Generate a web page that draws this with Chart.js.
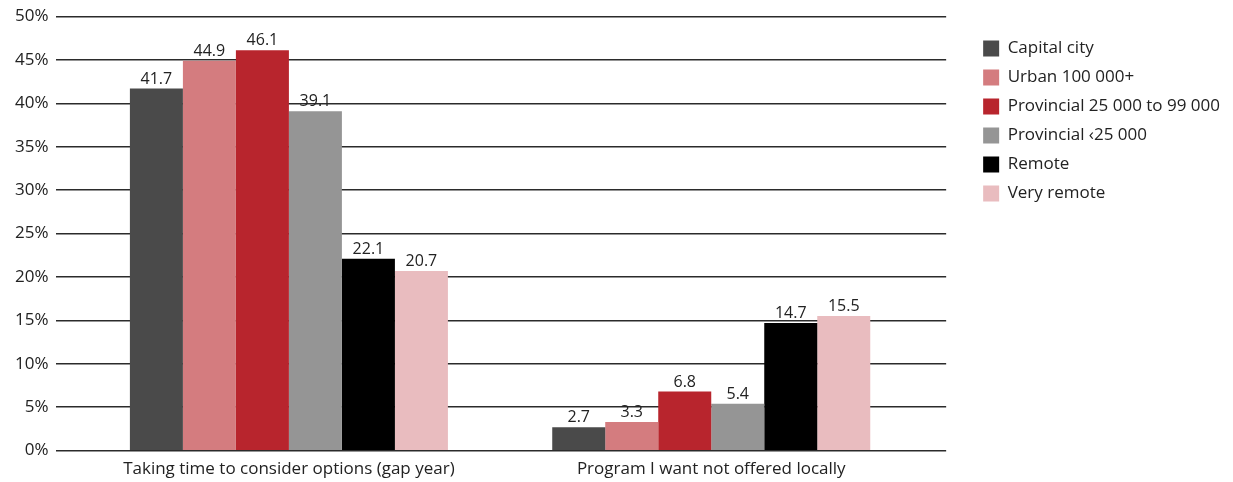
<!DOCTYPE html>
<html>
<head>
<meta charset="utf-8">
<script src="https://cdn.jsdelivr.net/npm/chart.js@4"></script>
<style>
  html, body { margin: 0; padding: 0; background: #fff; }
</style>
</head>
<body>
<canvas id="reasonChart" width="1233" height="482"></canvas>
<script>
const categories = ['Taking time to consider options (gap year)', 'Program I want not offered locally'];
const seriesNames = ['Capital city', 'Urban 100 000+', 'Provincial 25 000 to 99 000', 'Provincial ‹25 000', 'Remote', 'Very remote'];
const seriesColors = ['#4a4a4a', '#d47c7f', '#b8252d', '#959595', '#000000', '#e9bcbf'];

const capitalCity = [41.7, 2.7];
const urban100k = [44.9, 3.3];
const provincial25to99k = [46.1, 6.8];
const provincialUnder25k = [39.1, 5.4];
const remote = [22.1, 14.7];
const veryRemote = [20.7, 15.5];

const seriesValues = [capitalCity, urban100k, provincial25to99k, provincialUnder25k, remote, veryRemote];
const yTicks = [0, 5, 10, 15, 20, 25, 30, 35, 40, 45, 50];

Chart.defaults.font.family = '"Open Sans", sans-serif';
Chart.defaults.font.size = 17;
Chart.defaults.color = '#222';

// space between plot and legend, and how far the legend sits below the top
const legendGap = 25;
const legendDrop = 30;

const legendShift = {
  id: 'legendShift',
  beforeLayout(chart) {
    const legend = chart.legend;
    if (legend && !legend._widened) {
      const fit = legend.fit;
      legend.fit = function () {
        fit.call(this);
        this.width += legendGap;
      };
      legend._widened = true;
    }
  },
  afterLayout(chart) {
    const legend = chart.legend;
    legend.left += legendGap;
    legend.right += legendGap;
    legend.top += legendDrop;
    legend.bottom += legendDrop;
  },
};

const valueLabels = {
  id: 'valueLabels',
  afterDatasetsDraw(chart) {
    const ctx = chart.ctx;
    ctx.save();
    ctx.font = '16px "Open Sans", sans-serif';
    ctx.fillStyle = '#222';
    ctx.textAlign = 'center';
    ctx.textBaseline = 'alphabetic';
    chart.data.datasets.forEach((ds, i) => {
      chart.getDatasetMeta(i).data.forEach((bar, j) => {
        ctx.fillText(ds.data[j].y.toFixed(1), bar.x, bar.y - 5);
      });
    });
    ctx.restore();
  },
};

const datasets = seriesNames.map((name, i) => ({
  label: name,
  data: seriesValues[i].map((v, j) => ({ x: j, y: v })),
  backgroundColor: seriesColors[i],
  borderWidth: 0,
  categoryPercentage: 0.753,
  barPercentage: 1,
}));

new Chart(document.getElementById('reasonChart'), {
  type: 'bar',
  data: { datasets },
  options: {
    responsive: false,
    animation: false,
    layout: { padding: { top: -2, right: 3, bottom: -5, left: 7 } },
    plugins: {
      legend: {
        position: 'right',
        align: 'start',
        labels: {
          boxWidth: 16,
          boxHeight: 16,
          padding: 12,
          font: { size: 17 },
          color: '#222',
        },
      },
      tooltip: { enabled: false },
    },
    scales: {
      x: {
        type: 'linear',
        min: -0.5503,
        max: 1.5562,
        offset: false,
        afterBuildTicks: (axis) => {
          axis.ticks = categories.map((_, i) => ({ value: i }));
        },
        ticks: {
          autoSkip: false,
          maxRotation: 0,
          padding: 8,
          font: { size: 17 },
          callback: (v) => categories[v],
        },
        grid: { display: false, drawTicks: false },
        border: { display: false },
      },
      y: {
        min: 0,
        max: 50,
        afterBuildTicks: (axis) => {
          axis.ticks = yTicks.map((v) => ({ value: v }));
        },
        ticks: {
          padding: 8,
          font: { size: 17, lineHeight: 1 },
          callback: (v) => v + '%',
        },
        grid: { color: '#2b2b2b', lineWidth: 1.4, drawTicks: false },
        border: { display: false },
      },
    },
  },
  plugins: [legendShift, valueLabels],
});
</script>
</body>
</html>
